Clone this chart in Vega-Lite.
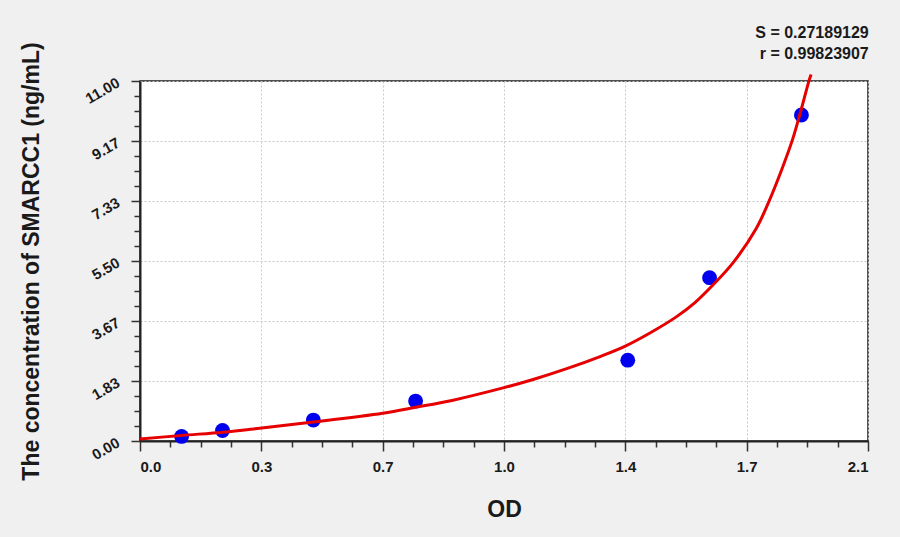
{
  "$schema": "https://vega.github.io/schema/vega-lite/v6.json",
  "autosize": {"type": "none"},
  "padding": {"left": 140, "top": 81, "right": 32, "bottom": 96},
  "width": 728,
  "height": 360,
  "background": "#f0f0f0",
  "title": {
    "text": ["S = 0.27189129", "r = 0.99823907"],
    "anchor": "end",
    "font": "Liberation Sans",
    "fontSize": 16,
    "fontWeight": "bold",
    "color": "#1a1a1a",
    "lineHeight": 21,
    "offset": 12,
    "dy": 32
  },
  "config": {
    "view": {"fill": "white", "stroke": "#1a1a1a", "strokeWidth": 1.5},
    "axis": {
      "labelFont": "Liberation Sans",
      "labelFontWeight": "bold",
      "labelFontSize": 15,
      "labelColor": "#1a1a1a",
      "titleFont": "Liberation Sans",
      "titleFontWeight": "bold",
      "titleFontSize": 23,
      "titleColor": "#1a1a1a",
      "domainColor": "#222222",
      "domainWidth": 2,
      "tickColor": "#333333",
      "tickWidth": 1.5,
      "gridColor": "#c8c8c8",
      "gridDash": [2, 2],
      "gridWidth": 1
    }
  },
  "datasets": {
    "standards": [
      {"od": 0.120, "conc": 0.14},
      {"od": 0.238, "conc": 0.32},
      {"od": 0.500, "conc": 0.64},
      {"od": 0.795, "conc": 1.22},
      {"od": 1.407, "conc": 2.47},
      {"od": 1.643, "conc": 4.99},
      {"od": 1.908, "conc": 9.96}
    ],
    "fit": [
      {"od": 0.0, "conc": 0.06},
      {"od": 0.12, "conc": 0.17},
      {"od": 0.24, "conc": 0.27},
      {"od": 0.345, "conc": 0.39},
      {"od": 0.5, "conc": 0.58},
      {"od": 0.7, "conc": 0.85},
      {"od": 0.795, "conc": 1.03},
      {"od": 0.9, "conc": 1.24},
      {"od": 1.05, "conc": 1.63},
      {"od": 1.134, "conc": 1.88},
      {"od": 1.231, "conc": 2.21},
      {"od": 1.327, "conc": 2.58},
      {"od": 1.4, "conc": 2.9},
      {"od": 1.471, "conc": 3.3},
      {"od": 1.548, "conc": 3.8},
      {"od": 1.6, "conc": 4.22},
      {"od": 1.654, "conc": 4.78},
      {"od": 1.711, "conc": 5.45},
      {"od": 1.778, "conc": 6.5},
      {"od": 1.815, "conc": 7.34},
      {"od": 1.851, "conc": 8.29},
      {"od": 1.882, "conc": 9.2},
      {"od": 1.904, "conc": 10.0},
      {"od": 1.931, "conc": 11.05},
      {"od": 1.936, "conc": 11.2}
    ]
  },
  "encoding": {
    "x": {
      "field": "od",
      "type": "quantitative",
      "title": "OD",
      "scale": {"domain": [0, 2.1], "nice": false, "zero": false},
      "axis": {
        "values": [0, 0.0875, 0.175, 0.2625, 0.35, 0.4375, 0.525, 0.6125, 0.7, 0.7875, 0.875, 0.9625, 1.05, 1.1375, 1.225, 1.3125, 1.4, 1.4875, 1.575, 1.6625, 1.75, 1.8375, 1.925, 2.0125, 2.1],
        "labelExpr": "abs(datum.value/0.35 - round(datum.value/0.35)) < 0.01 ? format(floor(datum.value*10 + 0.001)/10, '.1f') : ''",
        "labelPadding": 8,
        "tickSize": {"condition": {"test": "abs(datum.value/0.35 - round(datum.value/0.35)) < 0.01", "value": 10}, "value": 6},
        "gridOpacity": {"condition": {"test": "abs(datum.value/0.35 - round(datum.value/0.35)) < 0.01", "value": 1}, "value": 0},
        "titleBaseline": "middle",
        "titleY": 68
      }
    },
    "y": {
      "field": "conc",
      "type": "quantitative",
      "title": "The concentration of SMARCC1 (ng/mL)",
      "scale": {"domain": [0, 11], "nice": false, "zero": false},
      "axis": {
        "values": [0, 0.458333, 0.916667, 1.375, 1.833333, 2.291667, 2.75, 3.208333, 3.666667, 4.125, 4.583333, 5.041667, 5.5, 5.958333, 6.416667, 6.875, 7.333333, 7.791667, 8.25, 8.708333, 9.166667, 9.625, 10.083333, 10.541667, 11],
        "labelExpr": "abs(datum.value/(11/6) - round(datum.value/(11/6))) < 0.01 ? format(datum.value, '.2f') : ''",
        "labelAngle": -30,
        "labelAlign": "right",
        "labelBaseline": "middle",
        "labelPadding": 13,
        "tickSize": {"condition": {"test": "abs(datum.value/(11/6) - round(datum.value/(11/6))) < 0.01", "value": 9}, "value": 6},
        "gridOpacity": {"condition": {"test": "abs(datum.value/(11/6) - round(datum.value/(11/6))) < 0.01", "value": 1}, "value": 0},
        "titleX": -97,
        "titleY": 180,
        "titleBaseline": "bottom"
      }
    }
  },
  "layer": [
    {
      "data": {"name": "standards"},
      "mark": {"type": "point", "filled": true, "shape": "circle", "size": 220, "color": "#0000ee", "opacity": 1}
    },
    {
      "data": {"name": "fit"},
      "mark": {"type": "line", "color": "#e60000", "strokeWidth": 3, "interpolate": "catmull-rom", "clip": false}
    }
  ]
}
